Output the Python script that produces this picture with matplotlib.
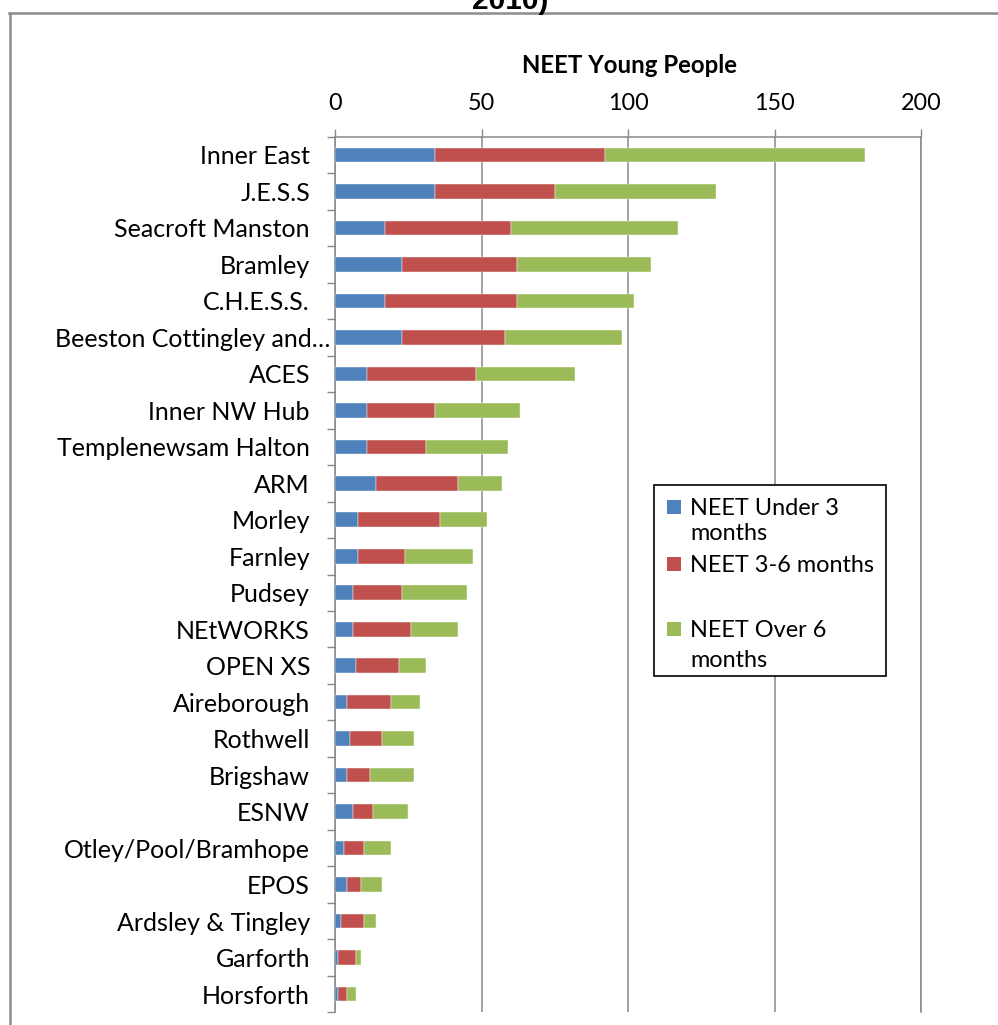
import matplotlib
matplotlib.use("Agg")
import matplotlib.pyplot as plt
import matplotlib.transforms as mtransforms
from matplotlib.patches import Rectangle
from matplotlib.lines import Line2D
import numpy as np

# NEET young people by area, split by time spent NEET
categories = [
    "Inner East", "J.E.S.S", "Seacroft Manston", "Bramley", "C.H.E.S.S.",
    "Beeston Cottingley and\u2026", "ACES", "Inner NW Hub", "Templenewsam Halton",
    "ARM", "Morley", "Farnley", "Pudsey", "NEtWORKS", "OPEN XS", "Aireborough",
    "Rothwell", "Brigshaw", "ESNW", "Otley/Pool/Bramhope", "EPOS",
    "Ardsley & Tingley", "Garforth", "Horsforth",
]
under_3 = [34, 34, 17, 23, 17, 23, 11, 11, 11, 14, 8, 8, 6, 6, 7, 4, 5, 4, 6, 3, 4, 2, 1, 1]
months_3_6 = [58, 41, 43, 39, 45, 35, 37, 23, 20, 28, 28, 16, 17, 20, 15, 15, 11, 8, 7, 7, 5, 8, 6, 3]
over_6 = [89, 55, 57, 46, 40, 40, 34, 29, 28, 15, 16, 23, 22, 16, 9, 10, 11, 15, 12, 9, 7, 4, 2, 3]
series_names = ["NEET Under 3\nmonths", "NEET 3-6 months", "NEET Over 6\nmonths"]
x_ticks = [0, 50, 100, 150, 200]

colors = ["#4F81BD", "#C0504D", "#9BBB59"]
grey = "#898989"
font = "Lato"

W, H = 998, 1025
fig = plt.figure(figsize=(W / 100, H / 100), dpi=100)
fig.patch.set_facecolor("white")


def fx(px):
    return px / W


def fy(py):
    return 1 - py / H


ax = fig.add_axes([fx(335), fy(1012.3), fx(921) - fx(335), fy(136.7) - fy(1012.3)])

y = np.arange(len(categories))
left = np.zeros(len(categories))
for vals, col in zip([under_3, months_3_6, over_6], colors):
    vals = np.asarray(vals, dtype=float)
    ax.barh(y, vals, left=left, height=0.4, color=col,
            edgecolor="white", linewidth=0.3, zorder=3)
    left += vals

ax.set_xlim(0, 200)
ax.set_ylim(len(categories) - 0.5, -0.5)

# value axis along the top
ax.xaxis.tick_top()
ax.set_xticks(x_ticks)
ax.set_xticklabels([str(t) for t in x_ticks], fontfamily=font, fontsize=16.8)
ax.tick_params(axis="x", which="major", direction="out", length=5.8, width=1,
               color=grey, pad=10.5)
ax.grid(axis="x", color=grey, linewidth=1.1, zorder=0)

# category axis: labels at centres, tick marks between categories
ax.set_yticks(y)
ax.set_yticklabels(categories, fontfamily=font, fontsize=18)
ax.set_yticks(np.arange(-0.5, len(categories), 1), minor=True)
ax.tick_params(axis="y", which="major", length=0, pad=18)
ax.tick_params(axis="y", which="minor", direction="out", length=5.8, width=1, color=grey)

# the truncated label sits closer to the axis
trunc = ax.get_yticklabels()[5]
trunc.set_transform(trunc.get_transform() +
                    mtransforms.ScaledTranslation(20 / 100, 0, fig.dpi_scale_trans))

for side in ["top", "left", "right"]:
    ax.spines[side].set_color(grey)
    ax.spines[side].set_linewidth(1.1)
ax.spines["bottom"].set_visible(False)

fig.text(fx(629), fy(65), "NEET Young People", fontfamily=font, fontweight="bold",
         fontsize=17.3, ha="center", va="center")

# heading above the chart frame
fig.text(fx(510), fy(9), "2010)", fontfamily="Liberation Sans", fontweight="bold",
         fontsize=21.5, ha="center", va="baseline")

# chart frame
fig.add_artist(Line2D([fx(9), 1.0], [fy(13), fy(13)], color="#8c8c8c", lw=1.8))
fig.add_artist(Line2D([fx(10), fx(10)], [fy(13), 0.0], color="#8c8c8c", lw=1.8))

# legend
fig.add_artist(Rectangle((fx(654), fy(676)), fx(885.7) - fx(654), fy(485) - fy(676),
                         transform=fig.transFigure, facecolor="white",
                         edgecolor="black", linewidth=1.2, zorder=5))
marker_tops = [500, 557, 622]
line_baselines = [[515, 540], [572], [637, 667]]
for name, col, top, baselines in zip(series_names, colors, marker_tops, line_baselines):
    fig.add_artist(Rectangle((fx(667), fy(top + 14)), fx(681) - fx(667), fy(top) - fy(top + 14),
                             transform=fig.transFigure, facecolor=col,
                             edgecolor="none", zorder=6))
    for line, b in zip(name.split("\n"), baselines):
        fig.text(fx(690), fy(b), line, fontfamily=font, fontsize=16.9,
                 ha="left", va="baseline", zorder=7)

fig.savefig("out.png", dpi=100)
